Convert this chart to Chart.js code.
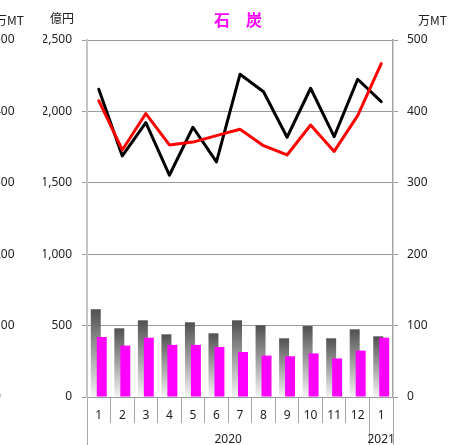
<!DOCTYPE html>
<html>
<head>
<meta charset="utf-8">
<script src="https://cdn.jsdelivr.net/npm/chart.js@4/dist/chart.umd.min.js"></script>
<style>
  html, body { margin: 0; padding: 0; background: #fff; overflow: hidden; }
  #frame { position: relative; width: 454px; height: 445px; overflow: hidden; background: #fff; }
  #holder { position: absolute; left: -6px; top: 0; width: 460px; height: 450px; }
</style>
</head>
<body>
<div id="frame"><div id="holder"><canvas id="c" width="460" height="450"></canvas></div></div>
<script>
// ---- data ----
const titleText = '石　炭';
const unitLeft = '億円';
const unitRight = '万MT';
const monthLabels = ['1','2','3','4','5','6','7','8','9','10','11','12','1'];
const yearLabels = ['2020','2021'];
// lines
const valueBlack = [2155, 1688, 1921, 1553, 1889, 1646, 2260, 2138, 1819, 2162, 1823, 2225, 2068]; // 億円
const volumeRed  = [415, 346, 397, 353, 357, 366, 375, 352, 339, 381, 344, 394, 467];             // 万MT
// bars
const grayBars    = [614, 481, 537, 439, 523, 446, 537, 502, 411, 497, 411, 474, 425];            // 億円
const magentaBars = [84, 72, 83, 73, 73, 70, 63, 58, 57, 61, 54, 65, 83];                         // 万MT
const spacer      = [0, 0, 0, 0, 0, 0, 0, 0, 0, 0, 0, 0, 0];
// axis ticks
const leftTicks  = [0, 500, 1000, 1500, 2000, 2500];
const rightTicks = [0, 100, 200, 300, 400, 500];

// year axis: half-month grid (27 slots from start of Jan-2020 to end of Jan-2021)
const yearSlots = ['', '', '', '', '', '', '', '', '', '', '', '', '', '', '', '', '', '', '', '', '', '', '', '', '', '', ''];
yearSlots[12] = yearLabels[0];  // middle of 2020 block
yearSlots[25] = yearLabels[1];  // middle of 2021 block
const yearSeparators = [0, 24, 26];

const FONT = '"Noto Sans", "Noto Sans CJK JP", sans-serif';
const CJK = '"Noto Sans CJK JP", "Noto Sans", sans-serif';
const GRID = '#a6a6a6';
const TXT = '#222';

Chart.defaults.font.family = FONT;
Chart.defaults.font.size = 12;
Chart.defaults.color = TXT;

function grayGradient(ctx) {
  if (ctx.type !== 'data' || !ctx.chart.chartArea) return '#999';
  const sc = ctx.chart.scales.y;
  const top = sc.getPixelForValue(ctx.raw);
  const base = sc.getPixelForValue(0);
  const g = ctx.chart.ctx.createLinearGradient(0, top, 0, base);
  g.addColorStop(0, '#505050');
  g.addColorStop(1, '#f4f4f4');
  return g;
}

const textPlugin = {
  id: 'texts',
  afterDraw(chart) {
    const { ctx, chartArea, scales } = chart;
    ctx.save();
    ctx.textBaseline = 'middle';
    ctx.fillStyle = TXT;
    ctx.font = '12px ' + CJK;
    ctx.textAlign = 'right';
    ctx.fillText(unitLeft, scales.y.right - 13, chartArea.top - 22);
    ctx.textAlign = 'left';
    ctx.fillText(unitRight, scales.y1.left + 25, chartArea.top - 20);
    ctx.fillText(unitRight, scales.y3.left + 1, chartArea.top - 20);
    ctx.fillStyle = '#FF00FF';
    ctx.font = 'bold 16px ' + CJK;
    ctx.textAlign = 'center';
    ctx.fillText(titleText, (chartArea.left + chartArea.right) / 2 - 2, chartArea.top - 20);
    ctx.restore();
  }
};

new Chart(document.getElementById('c'), {
  type: 'bar',
  data: {
    labels: monthLabels,
    datasets: [
      { type: 'line', data: volumeRed, yAxisID: 'y1', xAxisID: 'x', borderColor: '#FF0000', borderWidth: 3,
        pointRadius: 0, tension: 0, fill: false, borderJoinStyle: 'round', borderCapStyle: 'round' },
      { type: 'line', data: valueBlack, yAxisID: 'y', xAxisID: 'x', borderColor: '#000000', borderWidth: 3,
        pointRadius: 0, tension: 0, fill: false, borderJoinStyle: 'round', borderCapStyle: 'round' },
      { type: 'bar', data: spacer, stack: 'A', xAxisID: 'x', yAxisID: 'y', backgroundColor: 'rgba(0,0,0,0)', borderWidth: 0 },
      { type: 'bar', data: magentaBars, stack: 'B', xAxisID: 'x', yAxisID: 'y1', backgroundColor: '#FF00FF', borderWidth: 0 },
      { type: 'bar', data: grayBars, stack: 'A', xAxisID: 'x', yAxisID: 'y', backgroundColor: grayGradient, borderWidth: 0 }
    ]
  },
  options: {
    responsive: false,
    animation: false,
    devicePixelRatio: 1,
    layout: { padding: { left: 0, right: 27, top: 40, bottom: 3 } },
    datasets: { bar: { categoryPercentage: 0.508, barPercentage: 1.667 } },
    plugins: { legend: { display: false }, tooltip: { enabled: false }, title: { display: false } },
    scales: {
      x: {
        type: 'category', position: 'bottom', offset: true, weight: 0,
        grid: { offset: true, drawOnChartArea: false, drawTicks: true, tickLength: 26, color: GRID, lineWidth: 1 },
        border: { display: false },
        afterFit: (s) => { s.height = 26; },
        ticks: { mirror: true, padding: -26.2, maxRotation: 0, autoSkip: false, color: TXT, font: { size: 12 } }
      },
      xYear: {
        type: 'category', position: 'bottom', offset: false, weight: 1, labels: yearSlots,
        grid: { offset: false, drawOnChartArea: false, drawTicks: true, tickLength: 40, lineWidth: 1,
                color: (c) => yearSeparators.includes(c.index) ? GRID : 'rgba(0,0,0,0)' },
        border: { display: false },
        afterFit: (s) => { s.height = 24; },
        ticks: { mirror: true, padding: -24.2, maxRotation: 0, autoSkip: false, color: TXT, font: { size: 12 } }
      },
      y: {
        type: 'linear', position: 'left', min: 0, max: 2500, weight: 0, stacked: false,
        afterBuildTicks: (axis) => { axis.ticks = leftTicks.map(v => ({ value: v })); },
        afterFit: (s) => { s.width = 44; },
        grid: { color: '#9a9a9a', lineWidth: 1, tickLength: 5, drawTicks: true },
        border: { display: true, color: '#c4c4c4', width: 2 },
        ticks: { padding: 10, color: TXT, callback: (v) => v.toLocaleString('en-US') }
      },
      y3: {
        type: 'linear', position: 'left', min: 0, max: 500, weight: 10,
        afterBuildTicks: (axis) => { axis.ticks = rightTicks.map(v => ({ value: v })); },
        afterFit: (s) => { s.width = 49; },
        grid: { display: false, drawTicks: false },
        border: { display: false },
        ticks: { crossAlign: 'far', padding: 0, color: TXT, callback: (v) => String(v) }
      },
      y1: {
        type: 'linear', position: 'right', min: 0, max: 500, stacked: false,
        afterBuildTicks: (axis) => { axis.ticks = rightTicks.map(v => ({ value: v })); },
        afterFit: (s) => { s.width = 34; },
        grid: { drawOnChartArea: false, tickLength: 5, color: '#9a9a9a', lineWidth: 1 },
        border: { display: true, color: GRID, width: 1.5 },
        ticks: { padding: 9, color: TXT, callback: (v) => String(v) }
      }
    }
  },
  plugins: [textPlugin]
});
</script>
</body>
</html>
